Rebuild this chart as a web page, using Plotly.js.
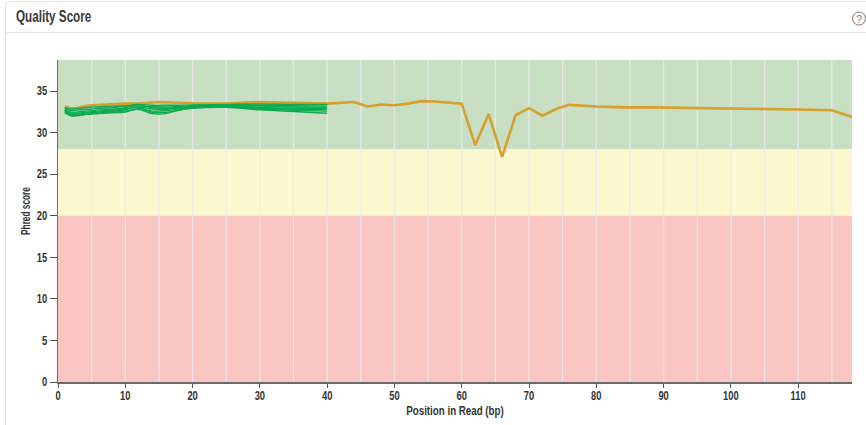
<!DOCTYPE html>
<html><head><meta charset="utf-8">
<script src="https://cdn.plot.ly/plotly-3.0.1.min.js"></script>
<style>
html,body{margin:0;padding:0;background:#fff;overflow:hidden}
#card{position:absolute;left:5px;top:1px;width:870px;height:440px;border:1px solid #e4e4e4;border-radius:4px;box-sizing:border-box}
#rule{position:absolute;left:5px;top:32px;width:861px;height:1px;background:#e2e2e2}
#chart{position:absolute;left:0;top:0;width:866px;height:425px}
</style></head><body>
<div id="card"></div><div id="rule"></div><div id="chart"></div>
<script>
const orangeX=[1,2,3,4,5,7,10,12,15,20,25,30,35,40,44,46,48,50,52,54,56,60,62,64,66,68,70,72,74,76,80,84,88,92,96,100,102,105,110,115,118];
const orangeY=[33.15,32.9,33.0,33.2,33.3,33.4,33.5,33.5,33.7,33.55,33.5,33.7,33.6,33.5,33.7,33.15,33.4,33.3,33.5,33.8,33.75,33.5,28.5,32.25,27.1,32.1,32.95,32.05,32.85,33.35,33.15,33.05,33.05,33,32.95,32.9,32.8,32.85,32.8,32.7,31.9];
const greenX=[1,2,3,4,5,6,8,10,12,14,16,18,20,25,30,35,40];
const green1=[33.0,32.85,32.95,33.0,33.1,33.1,33.2,33.25,33.4,33.3,33.3,33.3,33.35,33.4,33.45,33.4,33.4];
const green2=[32.9,32.65,32.75,32.8,32.85,32.95,33.0,33.2,33.2,33.15,33.1,33.15,33.25,33.3,33.3,33.25,33.2];
const green3=[32.75,32.45,32.5,32.6,32.65,32.75,32.8,33.0,33.35,33.0,32.95,33.0,33.2,33.25,33.2,33.1,33.05];
const green4=[32.6,32.3,32.2,32.35,32.4,32.5,32.55,32.8,33.1,32.85,32.8,33.0,33.1,33.2,33.05,32.95,32.9];
const green5=[32.5,32.1,32.15,32.2,32.3,32.3,32.4,32.5,32.9,32.6,32.65,32.85,33.05,33.15,32.95,32.85,32.75];
const green6=[32.7,32.2,32.35,32.45,32.5,32.6,32.7,32.9,33.0,32.45,32.45,32.7,33.0,33.1,32.85,32.7,32.6];
const green7=[32.4,32.0,32.05,32.2,32.25,32.35,32.5,32.6,32.8,32.3,32.3,32.75,32.95,33.05,32.75,32.55,32.35];
const greens=[green1,green2,green3,green4,green5,green6,green7];
const zones=[{y0:28,y1:38.75,c:'#c9dfc4'},{y0:20,y1:28,c:'#fbf7cf'},{y0:0,y1:20,c:'#f9c6c4'}];
const font='"Liberation Sans",Arial,sans-serif';
const traces=[{x:orangeX,y:orangeY,type:'scatter',mode:'lines',line:{color:'#d6a02c',width:2.6},hoverinfo:'skip'}]
 .concat(greens.map(g=>({x:greenX,y:g,type:'scatter',mode:'lines',line:{color:'#0cab50',width:1.4,shape:'spline'},hoverinfo:'skip'})));
const grid=[5,10,15,20,25,30,35,40,45,50,55,60,65,70,75,80,85,90,95,100,105,110,115];
const layout={
 width:866,height:425,showlegend:false,
 paper_bgcolor:'rgba(0,0,0,0)',plot_bgcolor:'rgba(0,0,0,0)',
 margin:{l:57.5,r:14,t:59.5,b:43},
 title:{text:'Quality Score',x:16/866,xanchor:'left',y:1-16/425,yanchor:'middle',font:{family:font,size:16,weight:'bold',color:'#3a3a3a'}},
 xaxis:{range:[0,118],tickmode:'array',tickvals:[0,10,20,30,40,50,60,70,80,90,100,110],ticks:'outside',ticklen:4,tickcolor:'#555',
  showgrid:false,zeroline:false,showline:true,linecolor:'#6b6b6b',linewidth:1.5,
  tickfont:{family:font,size:12,weight:'bold',color:'#333'},title:{text:'Position in Read (bp)',standoff:5,font:{family:font,size:12.5,weight:'bold',color:'#333'}}},
 yaxis:{range:[0,38.75],tickvals:[0,5,10,15,20,25,30,35],ticks:'outside',ticklen:7,tickcolor:'#555',
  showgrid:false,zeroline:false,showline:true,linecolor:'#6b6b6b',linewidth:1.5,
  tickfont:{family:font,size:12,weight:'bold',color:'#333'},title:{text:'Phred score',standoff:8,font:{family:font,size:12,weight:'bold',color:'#333'}}},
 shapes:zones.map(z=>({type:'rect',xref:'x',yref:'y',x0:0,x1:118,y0:z.y0,y1:z.y1,fillcolor:z.c,line:{width:0},layer:'below'}))
  .concat(grid.map(v=>({type:'line',xref:'x',yref:'y',x0:v,x1:v,y0:0,y1:38.75,line:{color:'rgba(235,235,235,0.8)',width:1.3},layer:'below'})))
  .concat([{type:'circle',xref:'paper',yref:'paper',x0:(852.5-57.5)/794.5,x1:(865.5-57.5)/794.5,y0:1+(59.5-24.5)/322.5,y1:1+(59.5-11.5)/322.5,line:{color:'#777',width:1},fillcolor:'#fff'}]),
 annotations:[{text:'?',xref:'paper',yref:'paper',x:(859-57.5)/794.5,y:1+(59.5-18)/322.5,showarrow:false,font:{family:font,size:11,color:'#777'},xanchor:'center',yanchor:'middle'}]
};
function squeeze(sel,ratio){
 document.querySelectorAll(sel).forEach(t=>{
  t.setAttribute('textLength',t.getComputedTextLength()*ratio);
  t.setAttribute('lengthAdjust','spacingAndGlyphs');
 });
}
function nudge(sel,dx,dy){
 document.querySelectorAll(sel).forEach(t=>{
  const old=t.getAttribute('transform')||'';
  t.setAttribute('transform','translate('+dx+','+dy+') '+old);
 });
}
Plotly.newPlot('chart',traces,layout,{displayModeBar:false,staticPlot:true}).then(()=>{
 squeeze('.gtitle',0.73);
 squeeze('.xtitle',0.78);
 squeeze('.ytitle',0.69);
 squeeze('.xtick text',0.78);
 squeeze('.ytick text',0.78);
 nudge('.xtick text',0,-2);
 nudge('.xtitle',0,-3);
 nudge('.ytitle',8,-10);
});
</script></body></html>
